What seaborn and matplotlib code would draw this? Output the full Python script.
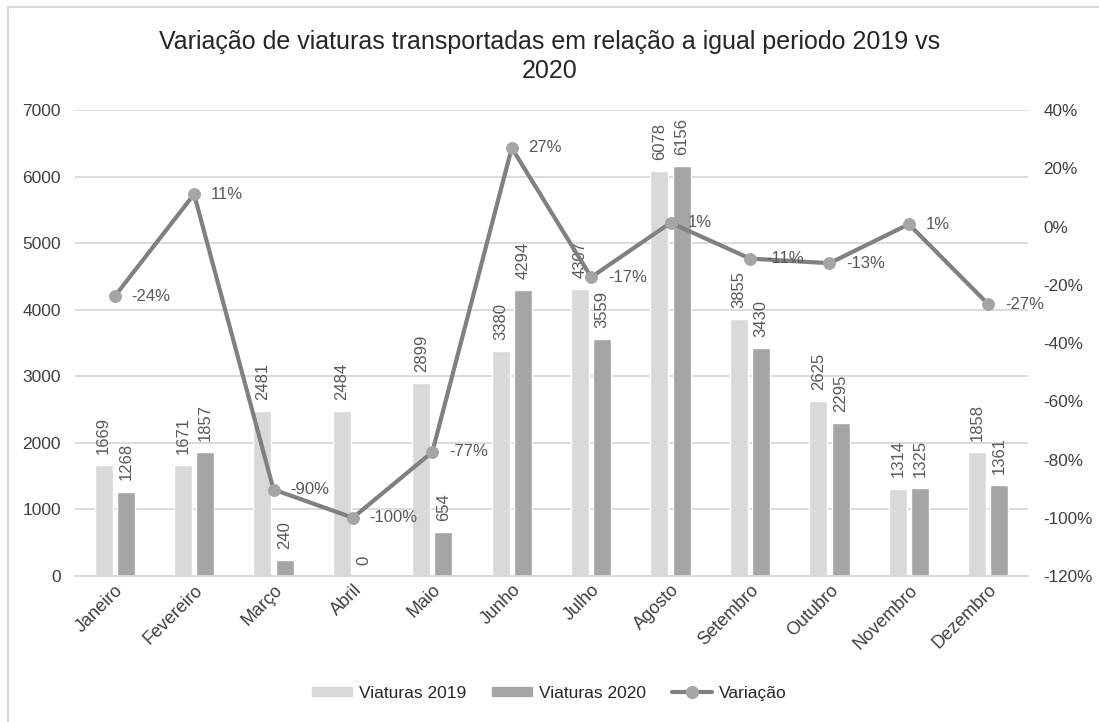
import matplotlib
matplotlib.use("Agg")
import matplotlib.pyplot as plt
import numpy as np
import pandas as pd
import seaborn as sns
from matplotlib.patches import Rectangle
from matplotlib.lines import Line2D
from matplotlib.ticker import FuncFormatter

months = ["Janeiro", "Fevereiro", "Março", "Abril", "Maio", "Junho", "Julho",
          "Agosto", "Setembro", "Outubro", "Novembro", "Dezembro"]
viaturas_2019 = [1669, 1671, 2481, 2484, 2899, 3380, 4307, 6078, 3855, 2625, 1314, 1858]
viaturas_2020 = [1268, 1857, 240, 0, 654, 4294, 3559, 6156, 3430, 2295, 1325, 1361]
variacao = [-0.24, 0.111, -0.903, -1.0, -0.774, 0.27, -0.174, 0.013, -0.11, -0.126, 0.008, -0.267]
pct_ticks = [-120, -100, -80, -60, -40, -20, 0, 20, 40]

C2019 = "#d9d9d9"
C2020 = "#a5a5a5"
CLINE = "#808080"
CMARK = "#a5a5a5"
CTEXT = "#595959"

sns.set_theme(style="white")
plt.rcParams["font.family"] = ["Liberation Sans", "DejaVu Sans"]
plt.rcParams["axes.unicode_minus"] = False

df = pd.DataFrame({
    "Mes": months * 2,
    "Viaturas": viaturas_2019 + viaturas_2020,
    "Ano": ["Viaturas 2019"] * 12 + ["Viaturas 2020"] * 12,
})

fig = plt.figure(figsize=(10.99, 7.22), dpi=100)
ax = fig.add_axes([0.0682, 0.2022, 0.8672, 0.6454])

sns.barplot(data=df, x="Mes", y="Viaturas", hue="Ano", palette=[C2019, C2020],
            width=0.56, gap=0.19, ax=ax, legend=False, saturation=1)

for cont in ax.containers:
    ax.bar_label(cont, rotation=90, padding=8, fontsize=12, color=CTEXT)

ax.set_ylim(0, 7000)
ax.set_yticks(range(0, 7001, 1000))
ax.set_xlim(-0.5, 11.5)
ax.yaxis.grid(True, color="#d9d9d9", linewidth=1.3)
ax.set_axisbelow(True)
ax.set_xlabel("")
ax.set_ylabel("")
for s in ["left", "right", "top"]:
    ax.spines[s].set_visible(False)
ax.spines["bottom"].set_color("#d9d9d9")
ax.spines["bottom"].set_linewidth(1.3)
ax.tick_params(axis="y", length=0, pad=10, labelsize=12.5, labelcolor="#404040")
ax.tick_params(axis="x", length=0, pad=4, labelsize=13, labelcolor="#404040")
plt.setp(ax.get_xticklabels(), rotation=45, ha="right", rotation_mode="anchor")

# variation line on the secondary axis
ax2 = ax.twinx()
sns.lineplot(x=np.arange(len(months)), y=variacao, ax=ax2, color=CLINE,
             linewidth=3, marker="o", markersize=8.5, markerfacecolor=CMARK,
             markeredgecolor=CMARK)
for i, v in enumerate(variacao):
    ax2.annotate(f"{v:.0%}", (i, v), xytext=(12, 0), textcoords="offset points",
                 va="center", ha="left", fontsize=12, color=CTEXT)
ax2.set_ylim(-1.2, 0.4)
ax2.set_yticks([t / 100 for t in pct_ticks])
ax2.yaxis.set_major_formatter(FuncFormatter(lambda y, _: f"{round(y * 100):d}%"))
ax2.tick_params(axis="y", length=0, pad=11, labelsize=12.3, labelcolor="#404040")
for s in ["left", "right", "top", "bottom"]:
    ax2.spines[s].set_visible(False)

fig.text(0.5, 0.922, "Variação de viaturas transportadas em relação a igual periodo 2019 vs\n2020",
         ha="center", va="center", fontsize=18, color="#262626", linespacing=1.25)

handles = [
    Rectangle((0, 0), 1, 1, color=C2019),
    Rectangle((0, 0), 1, 1, color=C2020),
    Line2D([], [], color=CLINE, linewidth=3, marker="o", markersize=8.5,
           markerfacecolor=CMARK, markeredgecolor=CMARK),
]
fig.legend(handles, ["Viaturas 2019", "Viaturas 2020", "Variação"], loc="center",
           bbox_to_anchor=(0.5, 0.04), ncol=3, frameon=False, fontsize=12.5,
           handlelength=2.3, handleheight=0.4, columnspacing=1.5, handletextpad=0.4,
           labelcolor="#262626")

fig.patches.append(Rectangle((8 / 1099, -0.1), 1.2, 1.1 - 6.5 / 722, transform=fig.transFigure,
                             fill=False, edgecolor="#d9d9d9", linewidth=1.5))

fig.savefig("out.png", dpi=100)
